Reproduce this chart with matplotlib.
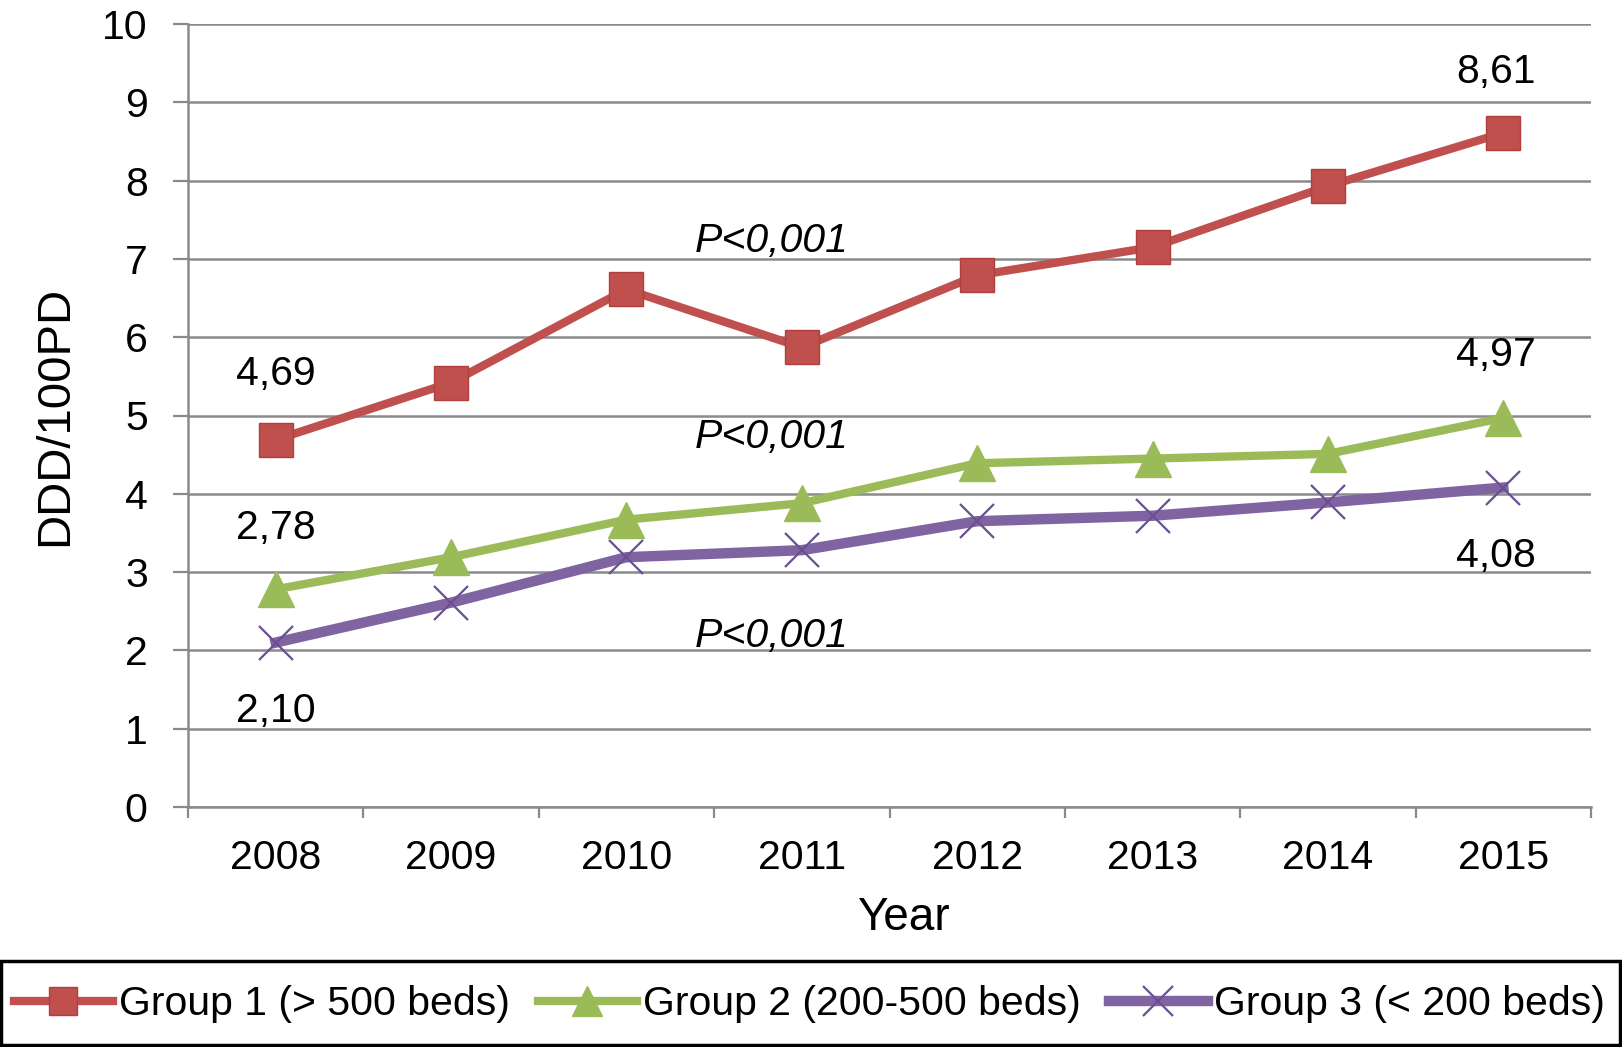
import matplotlib
matplotlib.use("Agg")
import matplotlib.pyplot as plt
from matplotlib.patches import Rectangle
from matplotlib.ticker import FixedLocator

plt.rcParams['font.family'] = ['Liberation Sans', 'DejaVu Sans']

years = ['2008', '2009', '2010', '2011', '2012', '2013', '2014', '2015']
group1 = [4.69, 5.42, 6.61, 5.87, 6.79, 7.15, 7.93, 8.61]
group2 = [2.78, 3.19, 3.67, 3.88, 4.39, 4.45, 4.51, 4.97]
group3 = [2.10, 2.61, 3.19, 3.28, 3.65, 3.72, 3.89, 4.08]
series_names = ['Group 1 (> 500 beds)', 'Group 2 (200-500 beds)', 'Group 3 (< 200 beds)']
end_labels = ['4,69', '2,78', '2,10', '8,61', '4,97', '4,08']
p_text = 'P<0,001'

red = '#C0504D'
green = '#9BBB59'
purple = '#8064A2'
grid_c = '#8A8A8A'

fig = plt.figure(figsize=(16.22, 10.47), dpi=100)
ax = fig.add_axes([188/1622, 1-807/1047, (1591-188)/1622, (807-24)/1047])

x = list(range(len(years)))
l1, = ax.plot(x, group1, color=red, lw=6, marker='s', ms=24,
              mfc=red, mec='#B0403D', mew=1, zorder=5)
l2, = ax.plot(x, group2, color=green, lw=6, marker='^', ms=26,
              mfc=green, mec=green, mew=1, zorder=5)
l3, = ax.plot(x, group3, color=purple, lw=7.5, marker='x', ms=25,
              mec='#6A4F92', mew=1.6, zorder=5)

ax.set_xlim(-0.5, 7.5)
ax.set_ylim(0, 10)
ax.set_yticks(range(0, 11))
ax.set_xticks(x)
ax.set_xticklabels(years)
ax.xaxis.set_minor_locator(FixedLocator([i - 0.5 for i in range(9)]))
ax.tick_params(axis='x', which='major', length=0, pad=23, labelsize=29.5)
ax.tick_params(axis='x', which='minor', length=8, width=1.6, color=grid_c, direction='out')
ax.tick_params(axis='y', length=11, width=1.6, color=grid_c, pad=18, labelsize=29.5)

ax.grid(axis='y', color=grid_c, lw=1.8, zorder=0)
ax.set_axisbelow(True)
for s in ['top', 'right']:
    ax.spines[s].set_visible(False)
for s in ['left', 'bottom']:
    ax.spines[s].set_color(grid_c)
    ax.spines[s].set_linewidth(1.8)

ax.set_ylabel('DDD/100PD', fontsize=34)
ax.yaxis.set_label_coords(-0.079, 0.5)
ax.set_xlabel('Year', fontsize=33)
ax.xaxis.set_label_coords(0.51, -0.114)

# value labels
lab_pos = [(0, 5.53), (0, 3.56), (0, 1.23), (6.96, 9.39), (6.96, 5.77), (6.96, 3.2)]
for t, (px, py) in zip(end_labels, lab_pos):
    ax.text(px, py, t, fontsize=29.5, ha='center', va='center', zorder=6)

for py in [7.23, 4.73, 2.18]:
    ax.text(2.83, py, p_text, fontsize=29.5, style='italic', ha='center', va='center', zorder=6)

# legend
leg = fig.legend([l1, l2, l3], series_names, loc='center', bbox_to_anchor=(0.499, 0.041),
                 ncol=3, frameon=False, fontsize=29.5, handlelength=2.4,
                 handletextpad=0.15, columnspacing=0.7, markerscale=0.85)
fig.patches.append(Rectangle((1/1622, 2/1047), 1619/1622, 84/1047, transform=fig.transFigure,
                             fill=False, ec='black', lw=2.5))

fig.savefig('out.png', dpi=100)
